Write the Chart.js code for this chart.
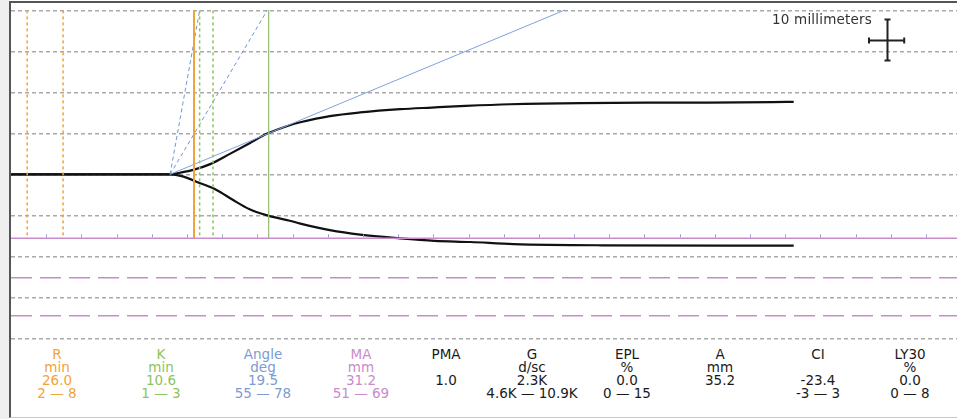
<!DOCTYPE html>
<html>
<head>
<meta charset="utf-8">
<title>TEG tracing</title>
<script src="https://cdn.jsdelivr.net/npm/chart.js@4/dist/chart.umd.min.js"></script>
<style>
  html, body { margin: 0; padding: 0; background: #fff; }
  body { width: 957px; height: 419px; position: relative; overflow: hidden;
         font-family: "DejaVu Sans", Verdana, sans-serif; }
  #strip { position: absolute; left: 0; top: 0; width: 9px; height: 419px; background: #efefef; }
  #frame { position: absolute; left: 9px; top: 1px; width: 948px; height: 414px;
           border-left: 2px solid #555; border-top: 2px solid #555; border-bottom: 1px solid #c8c8c8; }
  #plot { position: absolute; left: 11px; top: 3px; }
  #scaleLabel { position: absolute; left: 772px; top: 11px; font-size: 13.5px; color: #333; white-space: nowrap; letter-spacing: 0.2px; }
  .col { position: absolute; top: 348px; width: 130px; text-align: center; font-size: 13.5px; line-height: 13px; }
  .col div { height: 13px; white-space: nowrap; }
</style>
</head>
<body>
<div id="strip"></div>
<div id="frame"></div>
<canvas id="plot" width="946" height="337"></canvas>
<div id="scaleLabel">10 millimeters</div>
<div id="params"></div>
<script>
// ---- tracing (minutes vs. half-amplitude in mm) ----
const upperTime = [0, 22.6, 24.0, 25.9, 28.3, 31.1, 33.9, 36.5, 39.6, 41.1, 45.3, 49.6, 55.3, 59.8, 64.6, 70.9, 81.0, 95.0, 108.2, 111.2];
const upperAmp  = [0, 0, 0.4, 1.1, 2.5, 5.0, 7.6, 10.0, 12.0, 12.7, 14.2, 15.1, 15.9, 16.3, 16.7, 17.1, 17.4, 17.5, 17.6, 17.7];
const lowerTime = [0, 22.6, 24.4, 26.8, 29.2, 31.5, 33.9, 36.4, 39.6, 41.1, 45.3, 49.6, 55.3, 60.2, 65.3, 71.4, 83.9, 111.2];
const lowerAmp  = [0, 0, -0.5, -2.1, -3.8, -6.2, -8.5, -10.0, -11.3, -12.0, -13.6, -14.7, -15.6, -16.2, -16.5, -17.0, -17.3, -17.4];

// ---- markers ----
const rNormalTimes = [2.3, 7.4];
const rTime = 26.0;
const kNormalTimes = [26.8, 28.7];
const kTime = 36.6;
const angleTimes = [22.6, 78.7];      // measured angle 19.5 deg
const angleAmps  = [0, 40.1];
const angleHighTimes = [22.6, 26.8];  // 78 deg limit
const angleLowTimes  = [22.6, 36.4];  // 55 deg limit
const angleRefAmps   = [0, 40];
const maHalf = -15.6;                 // MA / 2
const maNormalHalves = [-25.2, -34.5];
const gridMm = [40, 30, 20, 10, 0, -10, -20, -30, -40];
const timeTicks = [5, 10, 15, 20, 25, 30, 35, 40, 45, 50, 55, 60, 65, 70, 75, 80, 85, 90, 95, 100, 105, 110, 115, 120, 125, 130];
const scaleBar = { t: 124.4, mm: 32.8, halfMm: 5, halfMin: 2.5 };

// ---- parameter table ----
const paramNames  = ["R", "K", "Angle", "MA", "PMA", "G", "EPL", "A", "CI", "LY30"];
const paramUnits  = ["min", "min", "deg", "mm", "", "d/sc", "%", "mm", "", "%"];
const paramValues = ["26.0", "10.6", "19.5", "31.2", "1.0", "2.3K", "0.0", "35.2", "-23.4", "0.0"];
const paramRanges = ["2 \u2014 8", "1 \u2014 3", "55 \u2014 78", "51 \u2014 69", "", "4.6K \u2014 10.9K", "0 \u2014 15", "", "-3 \u2014 3", "0 \u2014 8"];

const X_MAX = 134.4, Y_MAX = 41.8, Y_MIN = -40.4;
const C_ORANGE = '#f2a33a', C_GREEN = '#8cc45e', C_BLUE = '#6f97d6', C_PINK = '#c98bcb';

const pts = (xs, ys) => xs.map((x, i) => ({ x, y: ys[i] }));
const vline = t => [{ x: t, y: 40 }, { x: t, y: maHalf }];
const hline = v => [{ x: 0, y: v }, { x: X_MAX, y: v }];

const datasets = [];
maNormalHalves.forEach(v => datasets.push({ data: hline(v), borderColor: C_PINK, borderWidth: 1.5, borderDash: [21, 8] }));
datasets.push({ data: hline(maHalf), borderColor: C_PINK, borderWidth: 1.5 });
rNormalTimes.forEach(t => datasets.push({ data: vline(t), borderColor: C_ORANGE, borderWidth: 1.5, borderDash: [3, 3] }));
kNormalTimes.forEach(t => datasets.push({ data: vline(t), borderColor: C_GREEN, borderWidth: 1.5, borderDash: [3, 3] }));
datasets.push({ data: vline(rTime), borderColor: C_ORANGE, borderWidth: 2 });
datasets.push({ data: vline(kTime), borderColor: '#98c27a', borderWidth: 1 });
datasets.push({ data: pts(angleHighTimes, angleRefAmps), borderColor: C_BLUE, borderWidth: 1, borderDash: [4, 3] });
datasets.push({ data: pts(angleLowTimes, angleRefAmps), borderColor: C_BLUE, borderWidth: 1, borderDash: [4, 3] });
datasets.push({ data: pts(angleTimes, angleAmps), borderColor: '#7ea3dc', borderWidth: 1 });
datasets.push({ data: pts(upperTime, upperAmp), borderColor: '#111', borderWidth: 2.2, cubicInterpolationMode: 'monotone' });
datasets.push({ data: pts(lowerTime, lowerAmp), borderColor: '#111', borderWidth: 2.2, cubicInterpolationMode: 'monotone' });
datasets.forEach(d => { d.pointRadius = 0; d.showLine = true; d.fill = false; });

// time ticks along the MA line and the 10 mm scale cross
const overlay = {
  id: 'overlay',
  afterDatasetsDraw(chart) {
    const { ctx, scales: { x, y } } = chart;
    ctx.save();
    const yb = y.getPixelForValue(maHalf);
    ctx.strokeStyle = '#8ea4c6';
    ctx.lineWidth = 1;
    timeTicks.forEach(t => {
      const px = Math.round(x.getPixelForValue(t)) + 0.5;
      ctx.beginPath(); ctx.moveTo(px, yb - 1); ctx.lineTo(px, yb - 4); ctx.stroke();
    });
    const cx = Math.round(x.getPixelForValue(scaleBar.t)) + 0.5;
    const cy = Math.round(y.getPixelForValue(scaleBar.mm)) + 0.5;
    const top = y.getPixelForValue(scaleBar.mm + scaleBar.halfMm);
    const bot = y.getPixelForValue(scaleBar.mm - scaleBar.halfMm);
    const lft = x.getPixelForValue(scaleBar.t - scaleBar.halfMin);
    const rgt = x.getPixelForValue(scaleBar.t + scaleBar.halfMin);
    ctx.strokeStyle = '#222';
    ctx.lineWidth = 2;
    ctx.beginPath();
    ctx.moveTo(cx, top); ctx.lineTo(cx, bot);
    ctx.moveTo(lft, cy); ctx.lineTo(rgt, cy);
    ctx.moveTo(cx - 3, top); ctx.lineTo(cx + 3, top);
    ctx.moveTo(cx - 3, bot); ctx.lineTo(cx + 3, bot);
    ctx.moveTo(lft, cy - 3); ctx.lineTo(lft, cy + 3);
    ctx.moveTo(rgt, cy - 3); ctx.lineTo(rgt, cy + 3);
    ctx.stroke();
    ctx.restore();
  }
};

new Chart(document.getElementById('plot'), {
  type: 'scatter',
  data: { datasets },
  options: {
    responsive: false,
    animation: false,
    devicePixelRatio: 1,
    layout: { padding: 0 },
    plugins: { legend: { display: false }, tooltip: { enabled: false } },
    scales: {
      x: { type: 'linear', min: 0, max: X_MAX, display: false },
      y: {
        type: 'linear', min: Y_MIN, max: Y_MAX,
        afterBuildTicks: s => { s.ticks = gridMm.map(v => ({ value: v })); },
        ticks: { display: false },
        border: { display: false, dash: [4, 3] },
        grid: { drawTicks: false, color: '#a9a9a9', lineWidth: 1.5 }
      }
    }
  },
  plugins: [overlay]
});

// parameter table
const colCenters = [57, 161, 263, 361, 446, 532, 627, 720, 818, 910];
const colColors = [C_ORANGE, C_GREEN, '#7b9bd3', C_PINK, '#1a1a1a', '#1a1a1a', '#1a1a1a', '#1a1a1a', '#1a1a1a', '#1a1a1a'];
const host = document.getElementById('params');
paramNames.forEach((name, i) => {
  const col = document.createElement('div');
  col.className = 'col';
  col.style.left = (colCenters[i] - 65) + 'px';
  col.style.color = colColors[i];
  [name, paramUnits[i], paramValues[i], paramRanges[i]].forEach(txt => {
    const line = document.createElement('div');
    line.textContent = txt;
    col.appendChild(line);
  });
  host.appendChild(col);
});
</script>
</body>
</html>
